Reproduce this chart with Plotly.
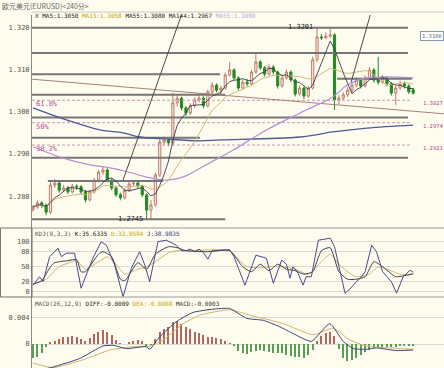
import plotly.graph_objects as go
import pandas as pd

W, H = 444, 368

TITLE = "欧元美元(EURUSD)<240分>"

OPEN = [1.2768, 1.2774, 1.2784, 1.2779, 1.2762, 1.2826, 1.2831, 1.2814, 1.2819, 1.2810,
        1.2824, 1.2822, 1.2810, 1.2791, 1.2810, 1.2838, 1.2857, 1.2862, 1.2838, 1.2819,
        1.2803, 1.2796, 1.2814, 1.2829, 1.2831, 1.2824, 1.2803, 1.2767, 1.2779, 1.2850,
        1.2928, 1.2933, 1.2926, 1.3021, 1.3032, 1.3009, 1.2997, 1.3014, 1.3028, 1.3032,
        1.3014, 1.3047, 1.3063, 1.3051, 1.3056, 1.3087, 1.3099, 1.3080, 1.3056, 1.3070,
        1.3066, 1.3094, 1.3118, 1.3104, 1.3089, 1.3106, 1.3094, 1.3061, 1.3080, 1.3094,
        1.3075, 1.3042, 1.3056, 1.3037, 1.3056, 1.3123, 1.3177, 1.3175, 1.3179, 1.3182,
        1.3028, 1.3032, 1.3040, 1.3051, 1.3063, 1.3075, 1.3061, 1.3080, 1.3099, 1.3075,
        1.3070, 1.3080, 1.3066, 1.3044, 1.3056, 1.3066, 1.3061, 1.3052]
HIGH = [1.2779, 1.2789, 1.2788, 1.2782, 1.2833, 1.2840, 1.2834, 1.2826, 1.2824, 1.2829,
        1.2828, 1.2826, 1.2814, 1.2815, 1.2843, 1.2862, 1.2870, 1.2866, 1.2842, 1.2823,
        1.2808, 1.2818, 1.2834, 1.2837, 1.2835, 1.2827, 1.2806, 1.2790, 1.2856, 1.2935,
        1.2941, 1.2937, 1.3045, 1.3040, 1.3036, 1.3013, 1.3020, 1.3034, 1.3040, 1.3037,
        1.3052, 1.3070, 1.3067, 1.3062, 1.3093, 1.3118, 1.3103, 1.3084, 1.3076, 1.3078,
        1.3099, 1.3138, 1.3122, 1.3108, 1.3113, 1.3110, 1.3097, 1.3086, 1.3100, 1.3098,
        1.3079, 1.3062, 1.3060, 1.3061, 1.3130, 1.3198, 1.3184, 1.3188, 1.3201, 1.3186,
        1.3040, 1.3046, 1.3058, 1.3069, 1.3081, 1.3079, 1.3086, 1.3106, 1.3103, 1.3130,
        1.3087, 1.3084, 1.3070, 1.3062, 1.3074, 1.3071, 1.3065, 1.3056]
LOW = [1.2763, 1.2770, 1.2772, 1.2755, 1.2758, 1.2820, 1.2808, 1.2810, 1.2805, 1.2806,
       1.2815, 1.2804, 1.2785, 1.2787, 1.2806, 1.2833, 1.2850, 1.2833, 1.2814, 1.2798,
       1.2790, 1.2792, 1.2810, 1.2824, 1.2818, 1.2798, 1.2745, 1.2745, 1.2775, 1.2845,
       1.2920, 1.2918, 1.2920, 1.3012, 1.3003, 1.2990, 1.2992, 1.3009, 1.3022, 1.3008,
       1.3010, 1.3042, 1.3046, 1.3040, 1.3052, 1.3083, 1.3075, 1.3050, 1.3052, 1.3060,
       1.3062, 1.3090, 1.3099, 1.3083, 1.3085, 1.3088, 1.3055, 1.3057, 1.3076, 1.3070,
       1.3036, 1.3038, 1.3030, 1.3033, 1.3052, 1.3118, 1.3170, 1.3172, 1.3175, 1.3004,
       1.3018, 1.3027, 1.3035, 1.3045, 1.3058, 1.3055, 1.3057, 1.3076, 1.3069, 1.3064,
       1.3066, 1.3060, 1.3038, 1.3016, 1.3052, 1.3055, 1.3042, 1.3040]
CLOSE = [1.2774, 1.2784, 1.2779, 1.2762, 1.2826, 1.2831, 1.2814, 1.2819, 1.2810, 1.2824,
         1.2822, 1.2810, 1.2791, 1.2810, 1.2838, 1.2857, 1.2862, 1.2838, 1.2819, 1.2803,
         1.2796, 1.2814, 1.2829, 1.2831, 1.2824, 1.2803, 1.2767, 1.2779, 1.2850, 1.2928,
         1.2933, 1.2926, 1.3021, 1.3032, 1.3009, 1.2997, 1.3014, 1.3028, 1.3032, 1.3014,
         1.3047, 1.3063, 1.3051, 1.3056, 1.3087, 1.3099, 1.3080, 1.3056, 1.3070, 1.3066,
         1.3094, 1.3118, 1.3104, 1.3089, 1.3106, 1.3094, 1.3061, 1.3080, 1.3094, 1.3075,
         1.3042, 1.3056, 1.3037, 1.3056, 1.3123, 1.3177, 1.3175, 1.3179, 1.3182, 1.3028,
         1.3032, 1.3040, 1.3051, 1.3063, 1.3075, 1.3061, 1.3080, 1.3099, 1.3075, 1.3070,
         1.3080, 1.3066, 1.3044, 1.3056, 1.3066, 1.3061, 1.3047, 1.3044]

# long moving averages (index, price)
MA55_X = [0, 6.9, 13.0, 17.6, 22.2, 26.0, 30.7, 35.0, 38.2, 42.8, 45.8, 53.5, 61.1, 68.6, 71.9, 76.4, 87]
MA55_Y = [1.2917, 1.2890, 1.2874, 1.2867, 1.2856, 1.2845, 1.2838, 1.2848, 1.2866, 1.2892, 1.2909,
          1.2957, 1.2997, 1.3035, 1.3063, 1.3080, 1.3080]
MA144_X = [0, 7.8, 15.3, 20.6, 24.5, 30.7, 38.2, 42.8, 61.1, 68.6, 76.4, 87]
MA144_Y = [1.3009, 1.2980, 1.2957, 1.2950, 1.2940, 1.2935, 1.2931, 1.2933, 1.2940, 1.2952,
           1.2961, 1.2968]

# trend lines (index, price)
TREND_A_X = [20.6, 34.0]
TREND_A_Y = [1.2838, 1.3230]
TREND_V_X = [72.8, 77.2]
TREND_V_Y = [1.3070, 1.3230]
TREND_BROWN_X = [-0.23, 94.05]
TREND_BROWN_Y = [1.3077, 1.2995]

# horizontal support / resistance levels
LEVELS = [1.3199, 1.3139, 1.3089, 1.3040, 1.2986, 1.2938, 1.2891, 1.2836, 1.2745, 1.3078]
LEVEL_X0 = [-0.23, -0.23, -0.23, -0.23, -0.23, -0.23, -0.23, 3.4, -0.23, 69.6]
LEVEL_X1 = [85.8, 85.8, 42.8, 44.0, 85.8, 38.2, 85.8, 29.8, 44.0, 86.7]

FIB_LEVELS = [1.3027, 1.2974, 1.2921]
FIB_NAMES = ["61.8%", "50%", "38.2%"]
FIB_RIGHT = ["1.3027", "1.2974", "1.2921"]

MAIN_TICKS = [1.28, 1.29, 1.30, 1.31, 1.32]

# KDJ (index, value)
J_X = [0, 1.5, 2.3, 3.8, 5.7, 6.5, 7.6, 9.5, 11, 13.7, 15.6, 16.8, 18.7, 20.6, 22.5, 24.4, 25.6,
       26.7, 28.6, 30.5, 32.8, 34, 35, 36, 37, 38, 39, 40, 41, 44, 45, 46, 48.5, 51, 52, 53.4,
       55, 56.9, 58, 58.8, 59.5, 60.5, 61.8, 62.5, 63.7, 65.3, 68, 69, 71.4, 72.5, 74, 75.2, 76,
       77.5, 78.6, 80, 82, 83.2, 84.7, 86.3, 87]
J_Y = [13, 30, 20, 70, 87, 70, 77, 77, 7, 67, 100, 93, 53, -10, 47, 80, 53,
       20, 100, 103, 93, 82, 82, 85, 80, 85, 78, 65, 82, 84, 84, 70, 13, 73, 70, 67,
       17, 63, 55, 27, 50, 40, 13, 30, 30, 103, 107, 90, -3, 5, 20, 30, 40,
       93, 80, 40, 20, -3, 30, 43, 39]
K_X = [0, 2, 4, 5, 8, 10, 11, 12, 15, 16, 18, 20, 21, 24, 26, 28, 31, 33, 35, 40, 45, 48, 50,
       52, 54, 56, 58, 60, 62, 64, 66, 68, 70, 72, 74, 76, 78, 80, 83, 85, 87]
K_Y = [15, 22, 50, 58, 62, 64, 40, 40, 75, 80, 70, 25, 22, 58, 45, 75, 90, 88, 82, 80, 82, 50, 40,
       55, 42, 55, 45, 42, 35, 40, 82, 88, 40, 25, 25, 30, 60, 50, 30, 32, 36]
D_X = [0, 3, 6, 9, 10, 12, 15, 17, 19, 21, 24, 26, 28, 31, 33, 35, 45, 47, 49, 52, 54, 57, 60,
       63, 66, 68, 70, 72, 74, 77, 79, 81, 84, 87]
D_Y = [15, 25, 50, 60, 62, 45, 60, 70, 55, 35, 45, 50, 60, 78, 82, 82, 82, 65, 50, 48, 50, 50, 45,
       35, 60, 75, 55, 40, 30, 35, 50, 45, 35, 34]
KDJ_TICKS = [0, 20, 50, 80, 100]

# MACD histogram, one per candle
MACD = [-0.0022, -0.0019, -0.0014, -0.0004, 0.0002, 0.0005, 0.0008, 0.0010, 0.0011, 0.0012,
        0.0011, 0.0007, 0.0005, 0.0009, 0.0015, 0.0019, 0.0021, 0.0018, 0.0013, 0.0006,
        0.0001, 0.0000, 0.0002, 0.0005, 0.0006, 0.0004, -0.0002, -0.0001, 0.0008, 0.0018,
        0.0023, 0.0026, 0.0033, 0.0035, 0.0031, 0.0026, 0.0023, 0.0018, 0.0016, 0.0013,
        0.0011, 0.0010, 0.0009, 0.0007, 0.0004, 0.0001, -0.0003, -0.0011, -0.0014, -0.0015,
        -0.0012, -0.0010, -0.0009, -0.0011, -0.0012, -0.0014, -0.0013, -0.0014, -0.0016, -0.0018,
        -0.0019, -0.0020, -0.0021, -0.0016, -0.0009, 0.0004, 0.0012, 0.0016, 0.0018, 0.0012,
        -0.0008, -0.0022, -0.0026, -0.0025, -0.0021, -0.0016, -0.0012, -0.0009, -0.0006, -0.0005,
        -0.0004, -0.0005, -0.0004, -0.0004, -0.0003, -0.0003, -0.0003, -0.0003]
DIFF_X = [0, 4.6, 10.7, 16, 18.3, 21.4, 25.9, 26.7, 29, 32.8, 36.6, 41.2, 45, 48.9, 52.7, 56.5,
          59.5, 63.7, 67.9, 71, 73.3, 76.3, 78.6, 83.2, 87]
DIFF_Y = [-0.0042, -0.0035, -0.0022, -0.0003, -0.0002, -0.0007, -0.0004, -0.0008, 0.0011, 0.0034,
          0.0048, 0.0053, 0.0054, 0.0039, 0.0036, 0.0026, 0.0016, 0.0004, 0.0031, 0.0004,
          -0.0007, -0.0008, -0.0006, -0.0010, -0.0009]
DEA_X = [0, 4.6, 11.5, 17.6, 22.9, 26.7, 29.8, 34.4, 38.2, 45, 49.6, 57.3, 64.1, 68.7, 72.5, 76.3, 87]
DEA_Y = [-0.0029, -0.0036, -0.0024, -0.0009, -0.0004, -0.0003, 0.0006, 0.0031, 0.0044, 0.0052,
         0.0044, 0.0031, 0.0014, 0.0024, 0.0006, -0.0003, -0.0008]

idx = list(range(len(CLOSE)))
closes = pd.Series(CLOSE)
ma5 = closes.rolling(5, min_periods=1).mean()
ma13 = closes.rolling(13, min_periods=1).mean()

BG = "#fdfcee"
MONO = "DejaVu Sans Mono"

fig = go.Figure()

# ---- main panel ----
for lv, x0, x1 in zip(LEVELS, LEVEL_X0, LEVEL_X1):
    fig.add_trace(go.Scatter(x=[x0, x1], y=[lv, lv], mode="lines",
                             line=dict(color="#767676", width=2), hoverinfo="skip",
                             xaxis="x", yaxis="y"))
for lv in FIB_LEVELS:
    fig.add_trace(go.Scatter(x=[-0.23, 86.6], y=[lv, lv], mode="lines",
                             line=dict(color="#c79ab8", width=1, dash="3px,2px"), hoverinfo="skip",
                             xaxis="x", yaxis="y"))
fig.add_trace(go.Scatter(x=TREND_BROWN_X, y=TREND_BROWN_Y, mode="lines",
                         line=dict(color="#a88078", width=1), xaxis="x", yaxis="y"))
fig.add_trace(go.Scatter(x=MA144_X, y=MA144_Y, mode="lines",
                         line=dict(color="#4e5a96", width=1.3, shape="spline"), xaxis="x", yaxis="y"))
fig.add_trace(go.Scatter(x=MA55_X, y=MA55_Y, mode="lines",
                         line=dict(color="#b48fd6", width=1.2, shape="spline"), xaxis="x", yaxis="y"))
fig.add_trace(go.Candlestick(
    x=idx, open=OPEN, high=HIGH, low=LOW, close=CLOSE,
    increasing=dict(line=dict(color="#c07a6c", width=1), fillcolor="#fbeee6"),
    decreasing=dict(line=dict(color="#238a23", width=1), fillcolor="#238a23"),
    whiskerwidth=0, xaxis="x", yaxis="y"))
fig.add_trace(go.Scatter(x=idx, y=ma13, mode="lines",
                         line=dict(color="#d8b978", width=1), xaxis="x", yaxis="y"))
fig.add_trace(go.Scatter(x=idx, y=ma5, mode="lines",
                         line=dict(color="#3a3a50", width=0.9), xaxis="x", yaxis="y"))
fig.add_trace(go.Scatter(x=TREND_A_X, y=TREND_A_Y, mode="lines",
                         line=dict(color="#4a4a4a", width=1), xaxis="x", yaxis="y"))
fig.add_trace(go.Scatter(x=TREND_V_X, y=TREND_V_Y, mode="lines",
                         line=dict(color="#4a4a4a", width=1), xaxis="x", yaxis="y"))

# ---- KDJ panel ----
fig.add_trace(go.Scatter(x=D_X, y=D_Y, mode="lines", line=dict(color="#d2b46a", width=1, shape="spline", smoothing=0.6),
                         xaxis="x", yaxis="y2"))
fig.add_trace(go.Scatter(x=K_X, y=K_Y, mode="lines", line=dict(color="#404050", width=1, shape="spline", smoothing=0.6),
                         xaxis="x", yaxis="y2"))
fig.add_trace(go.Scatter(x=J_X, y=J_Y, mode="lines", line=dict(color="#4a4a8c", width=1),
                         xaxis="x", yaxis="y2"))

# ---- MACD panel ----
bar_colors = ["#b5665c" if v >= 0 else "#5a9e55" for v in MACD]
fig.add_trace(go.Bar(x=idx, y=MACD, marker=dict(color=bar_colors, line=dict(width=0)), width=0.3,
                     xaxis="x", yaxis="y3"))
fig.add_trace(go.Scatter(x=DEA_X, y=DEA_Y, mode="lines", line=dict(color="#d2b46a", width=1, shape="spline", smoothing=0.5),
                         xaxis="x", yaxis="y3"))
fig.add_trace(go.Scatter(x=DIFF_X, y=DIFF_Y, mode="lines", line=dict(color="#3c4478", width=1, shape="spline", smoothing=0.5),
                         xaxis="x", yaxis="y3"))


def py(px):
    return 1 - px / H


def pxx(px):
    return px / W


tickfont = dict(family=MONO, size=7, color="#555555")
fig.update_layout(
    width=W, height=H, margin=dict(l=0, r=0, t=0, b=0, autoexpand=False),
    paper_bgcolor=BG, plot_bgcolor=BG, showlegend=False, bargap=0,
    xaxis=dict(domain=[pxx(32), 1], range=[-0.23, 94.05], showticklabels=False, showgrid=False,
               zeroline=False, rangeslider=dict(visible=False), anchor="y3", fixedrange=True,
               automargin=False),
    yaxis=dict(domain=[py(228), py(15)], range=[1.27244, 1.32291], tickvals=MAIN_TICKS,
               tickformat=".3f", showgrid=False, zeroline=False, showline=True, automargin=False,
               linecolor="#8a8a8a", ticks="", tickfont=tickfont, anchor="x"),
    yaxis2=dict(domain=[py(297), py(228)], range=[-10.6, 127.4], tickvals=KDJ_TICKS,
                showgrid=True, gridcolor="#dcdcd2", gridwidth=1, zeroline=False, showline=True,
                automargin=False, linecolor="#8a8a8a", ticks="", tickfont=tickfont, anchor="x"),
    yaxis3=dict(domain=[0, py(297)], range=[-0.00365, 0.00715], tickvals=[0, 0.004],
                ticktext=["0", "0.004"], showgrid=True, gridcolor="#dcdcd2", zeroline=False,
                automargin=False, showline=True, linecolor="#8a8a8a", ticks="", tickfont=tickfont,
                anchor="x"),
)

shapes = [
    dict(type="line", xref="paper", yref="paper", x0=pxx(32), x1=1, y0=py(228), y1=py(228),
         line=dict(color="#9a9a9a", width=1)),
    dict(type="line", xref="paper", yref="paper", x0=pxx(32), x1=1, y0=py(297), y1=py(297),
         line=dict(color="#9a9a9a", width=1)),
    dict(type="line", xref="paper", yref="paper", x0=pxx(32), x1=1, y0=py(12), y1=py(12),
         line=dict(color="#c8c8c0", width=1)),
    dict(type="rect", xref="paper", yref="paper", x0=0.001, x1=pxx(32), y0=py(297), y1=py(228),
         line=dict(color="#707070", width=1)),
]
fig.update_layout(shapes=shapes)

ann = []
ann.append(dict(xref="paper", yref="paper", x=0, y=py(6), xanchor="left", yanchor="middle",
                text=TITLE, showarrow=False,
                font=dict(family="Noto Sans CJK SC", size=7, color="#666666")))
legend = ("<span style='color:#333'>X</span> <span style='color:#222'>MA5:1.3050</span> "
          "<span style='color:#c9a400'>MA13:1.3058</span> <span style='color:#222'>MA55:1.3080</span> "
          "<span style='color:#222'>MA144:1.2967</span> <span style='color:#c0a8e0'>MA55:1.3080</span>")
ann.append(dict(xref="paper", yref="paper", x=pxx(33), y=py(16), xanchor="left", yanchor="middle",
                text=legend, showarrow=False, font=dict(family=MONO, size=6)))
kdj_head = ("<span style='color:#555'>KDJ(9,3,3)</span> <span style='color:#222'>K:35.6335</span> "
            "<span style='color:#c9a400'>D:33.9584</span> <span style='color:#3a3a80'>J:38.9835</span>")
ann.append(dict(xref="paper", yref="paper", x=pxx(33), y=py(233), xanchor="left", yanchor="middle",
                text=kdj_head, showarrow=False, font=dict(family=MONO, size=6)))
macd_head = ("<span style='color:#555'>MACD(26,12,9)</span> <span style='color:#222'>DIFF:-0.0009</span> "
             "<span style='color:#c9a400'>DEA:-0.0008</span> <span style='color:#333'>MACD:-0.0003</span>")
ann.append(dict(xref="paper", yref="paper", x=pxx(33), y=py(303), xanchor="left", yanchor="middle",
                text=macd_head, showarrow=False, font=dict(family=MONO, size=6)))

# price labels
ann.append(dict(xref="x", yref="y", x=61.3, y=1.3201, xanchor="center", yanchor="middle",
                text="1.3201", showarrow=False, font=dict(family=MONO, size=7, color="#222")))
ann.append(dict(xref="x", yref="y", x=22.3, y=1.2745, xanchor="center", yanchor="middle",
                text="1.2745", showarrow=False, font=dict(family=MONO, size=7, color="#222")))
ann.append(dict(xref="x", yref="y", x=88.6, y=1.3166, yshift=6, xanchor="left", yanchor="middle",
                text="1.3166", showarrow=False, bordercolor="#7f9fb0", borderwidth=1, borderpad=1,
                bgcolor="#ffffff", font=dict(family=MONO, size=5.5, color="#5a6a80")))
for lv, name, rt in zip(FIB_LEVELS, FIB_NAMES, FIB_RIGHT):
    ann.append(dict(xref="x", yref="y", x=0.2, y=lv, yshift=-4, xanchor="left", yanchor="middle",
                    text=name, showarrow=False, font=dict(family=MONO, size=7, color="#c0509a")))
    ann.append(dict(xref="x", yref="y", x=88.9, y=lv, yshift=-3, xanchor="left", yanchor="middle",
                    text=rt, showarrow=False, font=dict(family=MONO, size=5.5, color="#b04a8a")))
fig.update_layout(annotations=ann)

fig.write_html("out.html", config={"displayModeBar": False},
               post_script="document.body.style.margin='0px';document.body.style.background='" + BG + "';")
